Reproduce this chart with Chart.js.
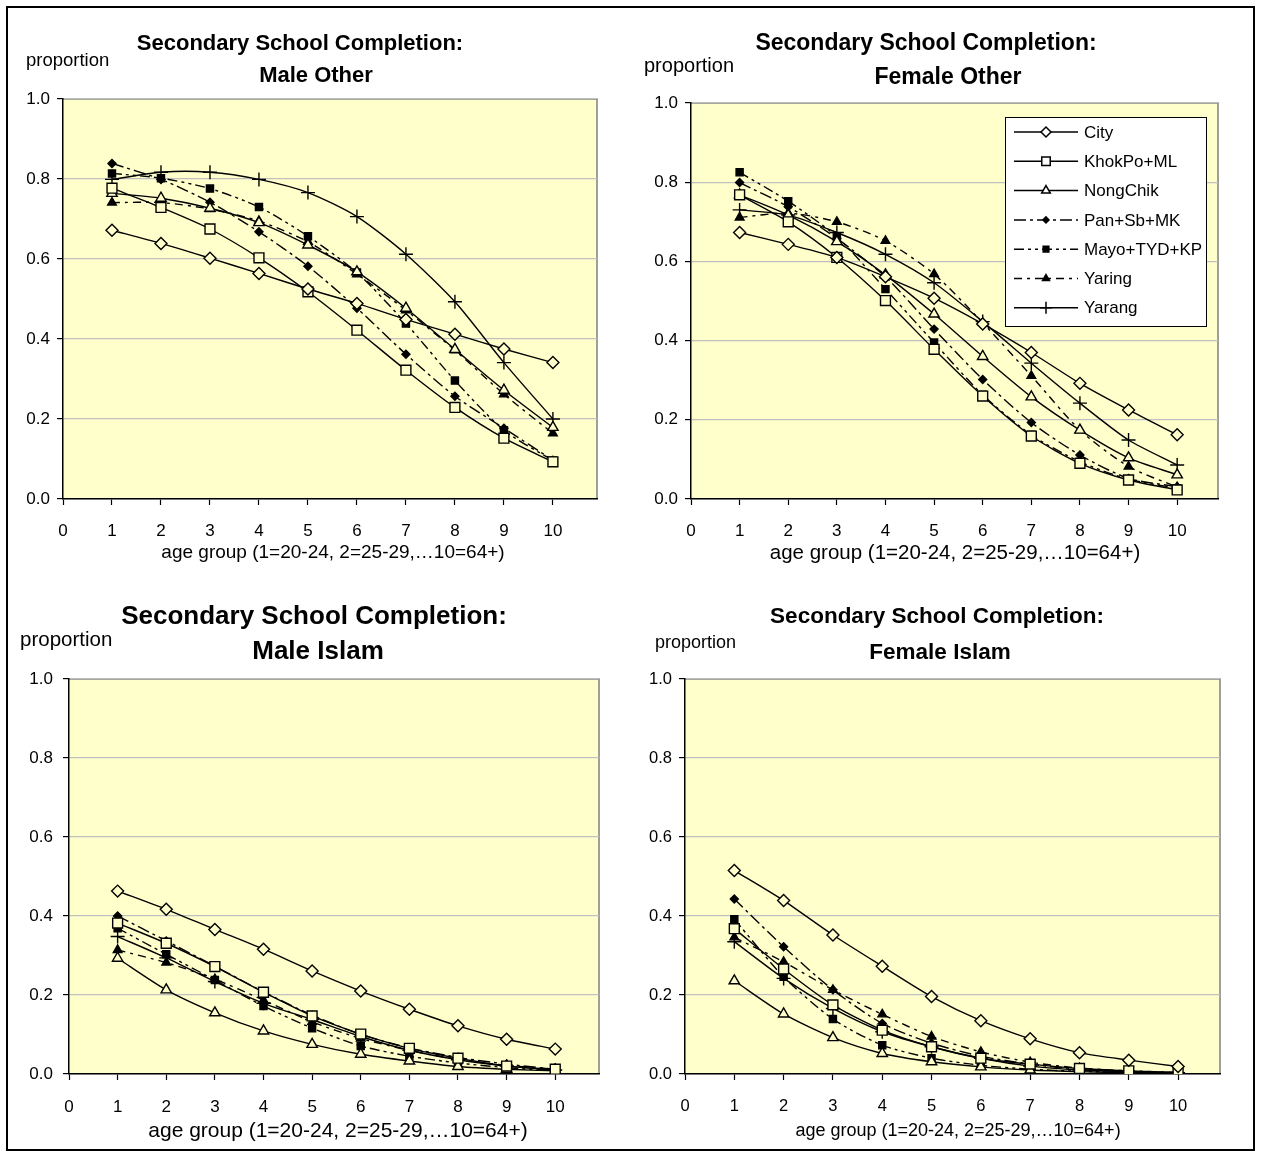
<!DOCTYPE html>
<html>
<head>
<meta charset="utf-8">
<script src="https://cdn.jsdelivr.net/npm/chart.js@4.4.1/dist/chart.umd.min.js"></script>
<style>
  html, body { margin: 0; padding: 0; background: #fff; }
  #page { position: relative; width: 1262px; height: 1157px; overflow: hidden; }
  #page canvas { position: absolute; left: 0; top: 0; }
  #frame { position: absolute; left: 6px; top: 6px; width: 1245px; height: 1141px; border: 2px solid #000; }
</style>
</head>
<body>
<div id="page">
  <div id="frame"></div>
  <canvas id="maleOther" width="1262" height="1157"></canvas>
  <canvas id="femaleOther" width="1262" height="1157"></canvas>
  <canvas id="maleIslam" width="1262" height="1157"></canvas>
  <canvas id="femaleIslam" width="1262" height="1157"></canvas>
</div>
<script>
const FONT = "'Liberation Sans', Arial, Helvetica, sans-serif";

// x values (age group 1=20-24 ... 10=64+)
const ageGroups = [1, 2, 3, 4, 5, 6, 7, 8, 9, 10];
const seriesNames = ['City', 'KhokPo+ML', 'NongChik', 'Pan+Sb+MK', 'Mayo+TYD+KP', 'Yaring', 'Yarang'];
const xTicks = [0, 1, 2, 3, 4, 5, 6, 7, 8, 9, 10];
const yTicks = [0, 0.2, 0.4, 0.6, 0.8, 1.0];

// values, one row per series (same order as seriesNames)
const maleOther = [
  [0.672, 0.639, 0.602, 0.564, 0.525, 0.489, 0.449, 0.412, 0.375, 0.341],
  [0.777, 0.729, 0.675, 0.603, 0.518, 0.422, 0.322, 0.229, 0.152, 0.093],
  [0.764, 0.752, 0.727, 0.691, 0.635, 0.568, 0.477, 0.374, 0.272, 0.179],
  [0.839, 0.799, 0.742, 0.668, 0.582, 0.477, 0.362, 0.257, 0.177, 0.097],
  [0.814, 0.802, 0.776, 0.730, 0.657, 0.566, 0.439, 0.296, 0.172, 0.096],
  [0.741, 0.741, 0.725, 0.695, 0.643, 0.562, 0.472, 0.372, 0.262, 0.164],
  [0.799, 0.817, 0.817, 0.799, 0.766, 0.706, 0.612, 0.493, 0.341, 0.200]
];
const femaleOther = [
  [0.673, 0.643, 0.610, 0.561, 0.507, 0.442, 0.370, 0.292, 0.225, 0.162],
  [0.768, 0.700, 0.610, 0.501, 0.378, 0.260, 0.159, 0.090, 0.048, 0.023],
  [0.768, 0.717, 0.650, 0.566, 0.467, 0.360, 0.258, 0.174, 0.104, 0.061],
  [0.799, 0.738, 0.658, 0.561, 0.429, 0.302, 0.193, 0.111, 0.052, 0.031],
  [0.825, 0.752, 0.662, 0.530, 0.395, 0.263, 0.162, 0.094, 0.050, 0.027],
  [0.711, 0.722, 0.700, 0.652, 0.568, 0.445, 0.311, 0.174, 0.082, 0.030],
  [0.730, 0.717, 0.673, 0.618, 0.546, 0.448, 0.343, 0.242, 0.149, 0.086]
];
const maleIslam = [
  [0.463, 0.417, 0.366, 0.316, 0.261, 0.210, 0.164, 0.122, 0.088, 0.063],
  [0.382, 0.331, 0.272, 0.207, 0.147, 0.101, 0.065, 0.040, 0.020, 0.012],
  [0.293, 0.213, 0.155, 0.109, 0.075, 0.050, 0.033, 0.019, 0.012, 0.008],
  [0.400, 0.337, 0.273, 0.208, 0.149, 0.100, 0.066, 0.042, 0.025, 0.012],
  [0.369, 0.303, 0.238, 0.172, 0.116, 0.071, 0.045, 0.028, 0.016, 0.008],
  [0.314, 0.282, 0.240, 0.187, 0.132, 0.090, 0.060, 0.037, 0.022, 0.012],
  [0.348, 0.294, 0.234, 0.179, 0.138, 0.095, 0.060, 0.036, 0.020, 0.010]
];
const femaleIslam = [
  [0.515, 0.439, 0.352, 0.273, 0.196, 0.135, 0.089, 0.054, 0.035, 0.019],
  [0.368, 0.266, 0.175, 0.111, 0.069, 0.040, 0.025, 0.014, 0.008, 0.004],
  [0.236, 0.152, 0.092, 0.052, 0.031, 0.018, 0.010, 0.006, 0.003, 0.002],
  [0.443, 0.322, 0.213, 0.128, 0.078, 0.045, 0.025, 0.012, 0.006, 0.003],
  [0.392, 0.246, 0.139, 0.073, 0.040, 0.022, 0.012, 0.007, 0.004, 0.002],
  [0.346, 0.284, 0.213, 0.151, 0.095, 0.056, 0.030, 0.015, 0.008, 0.004],
  [0.335, 0.242, 0.166, 0.107, 0.069, 0.040, 0.020, 0.010, 0.006, 0.003]
];

const PLOT_BG = '#FFFFCC';
// marker + line look for each series
const seriesStyle = [
  { pointStyle: 'rectRot', radius: 6, fill: PLOT_BG, dash: [] },
  { pointStyle: 'rect', radius: 7, fill: PLOT_BG, dash: [] },
  { pointStyle: 'triangle', radius: 6, fill: PLOT_BG, dash: [] },
  { pointStyle: 'rectRot', radius: 4, fill: '#000', dash: [12, 4, 3, 4] },
  { pointStyle: 'rect', radius: 5, fill: '#000', dash: [10, 4, 3, 4, 3, 4] },
  { pointStyle: 'triangle', radius: 5, fill: '#000', dash: [8, 5, 3, 5] },
  { pointStyle: 'cross', radius: 7, fill: '#000', dash: [] }
];

// background, titles and legend
const decor = {
  id: 'decor',
  beforeDraw(chart, args, o) {
    const { ctx, chartArea: a } = chart;
    ctx.save();
    ctx.fillStyle = PLOT_BG;
    ctx.fillRect(a.left, a.top, a.right - a.left, a.bottom - a.top);
    ctx.strokeStyle = '#808080';
    ctx.lineWidth = 1.5;
    ctx.beginPath();
    ctx.moveTo(a.left, a.top);
    ctx.lineTo(a.right, a.top);
    ctx.lineTo(a.right, a.bottom);
    ctx.stroke();
    ctx.restore();
  },
  afterDraw(chart, args, o) {
    const ctx = chart.ctx;
    ctx.save();
    ctx.fillStyle = '#000';
    ctx.textBaseline = 'middle';
    ctx.textAlign = 'center';
    o.titles.forEach(t => {
      ctx.font = `bold ${t.size}px ${FONT}`;
      ctx.fillText(t.text, t.x, t.y);
    });
    ctx.font = `${o.xTitle.size}px ${FONT}`;
    ctx.fillText('age group (1=20-24, 2=25-29,…10=64+)', o.xTitle.x, o.xTitle.y);
    ctx.textAlign = 'left';
    ctx.font = `${o.yTitle.size}px ${FONT}`;
    ctx.fillText('proportion', o.yTitle.x, o.yTitle.y);

    if (o.legend) {
      const L = o.legend;
      ctx.fillStyle = '#fff';
      ctx.fillRect(L.x, L.y, L.w, L.h);
      ctx.strokeStyle = '#000';
      ctx.lineWidth = 1;
      ctx.strokeRect(L.x + 0.5, L.y + 0.5, L.w, L.h);
      chart.data.datasets.forEach((ds, i) => {
        const y = L.y + 15 + i * L.row;
        const st = seriesStyle[i];
        ctx.strokeStyle = '#000';
        ctx.lineWidth = 1.5;
        ctx.setLineDash(st.dash);
        ctx.beginPath();
        ctx.moveTo(L.x + 9, y);
        ctx.lineTo(L.x + 73, y);
        ctx.stroke();
        ctx.setLineDash([]);
        ctx.fillStyle = st.fill === PLOT_BG ? '#fff' : '#000';
        Chart.helpers.drawPoint(ctx, {
          pointStyle: st.pointStyle, rotation: 0,
          radius: st.radius - 1, borderWidth: 1.2
        }, L.x + 41, y);
        ctx.fillStyle = '#000';
        ctx.font = `${L.size}px ${FONT}`;
        ctx.textAlign = 'left';
        ctx.fillText(ds.label, L.x + 79, y + 1);
      });
    }
    ctx.restore();
  }
};

function makeChart(id, values, cfg) {
  const yW = 55, xH = 45;
  const a = cfg.area;
  const datasets = values.map((row, i) => {
    const st = seriesStyle[i];
    return {
      label: seriesNames[i],
      data: row.map((v, j) => ({ x: ageGroups[j], y: v })),
      borderColor: '#000',
      borderWidth: 1.4,
      borderDash: st.dash,
      tension: 0.25,
      pointStyle: st.pointStyle,
      pointRadius: st.radius,
      pointBackgroundColor: st.fill,
      pointBorderColor: '#000',
      pointBorderWidth: 1.4
    };
  });
  return new Chart(document.getElementById(id), {
    type: 'line',
    data: { datasets },
    plugins: [decor],
    options: {
      responsive: false,
      animation: false,
      devicePixelRatio: 1,
      events: [],
      layout: {
        padding: { left: a.l - yW, top: a.t, right: 1262 - a.r, bottom: 1157 - a.b - xH }
      },
      plugins: {
        legend: { display: false },
        tooltip: { enabled: false },
        decor: cfg.decor
      },
      scales: {
        x: {
          type: 'linear', min: 0, max: cfg.xMax,
          afterFit: s => { s.height = xH; },
          afterBuildTicks: s => { s.ticks = xTicks.map(v => ({ value: v })); },
          ticks: { padding: cfg.xPad, color: '#000', maxRotation: 0, autoSkip: false,
                   font: { family: FONT, size: cfg.tickSize } },
          grid: { drawOnChartArea: false, tickColor: '#000', tickLength: 6, tickWidth: 1.2 },
          border: { color: '#000', width: 1.5 }
        },
        y: {
          min: 0, max: 1,
          afterFit: s => { s.width = yW; },
          afterBuildTicks: s => { s.ticks = yTicks.map(v => ({ value: v })); },
          ticks: { padding: cfg.yPad, color: '#000', callback: v => v.toFixed(1),
                   font: { family: FONT, size: cfg.tickSize } },
          grid: { color: '#c0c0c0', lineWidth: 1.2, tickColor: '#000', tickLength: 6, tickWidth: 1.2 },
          border: { color: '#000', width: 1.5 }
        }
      }
    }
  });
}

makeChart('maleOther', maleOther, {
  area: { l: 63, t: 99, r: 597, b: 499 }, xMax: 10.9, tickSize: 17, yPad: 7, xPad: 16,
  decor: {
    titles: [
      { text: 'Secondary School Completion:', x: 300, y: 44, size: 22 },
      { text: 'Male Other', x: 316, y: 76, size: 22 }
    ],
    yTitle: { x: 26, y: 61, size: 18.5 },
    xTitle: { x: 333, y: 553, size: 19 }
  }
});

makeChart('femaleOther', femaleOther, {
  area: { l: 691, t: 103, r: 1218, b: 499 }, xMax: 10.84, tickSize: 17, yPad: 7, xPad: 16,
  decor: {
    titles: [
      { text: 'Secondary School Completion:', x: 926, y: 44, size: 23 },
      { text: 'Female Other', x: 948, y: 78, size: 23 }
    ],
    yTitle: { x: 644, y: 66, size: 20 },
    xTitle: { x: 955, y: 553, size: 20.5 },
    legend: { x: 1005, y: 117, w: 201, h: 209, row: 29.3, size: 17 }
  }
});

makeChart('maleIslam', maleIslam, {
  area: { l: 69, t: 679, r: 599, b: 1074 }, xMax: 10.9, tickSize: 17, yPad: 10, xPad: 17,
  decor: {
    titles: [
      { text: 'Secondary School Completion:', x: 314, y: 617, size: 26 },
      { text: 'Male Islam', x: 318, y: 652, size: 26 }
    ],
    yTitle: { x: 20, y: 640, size: 20.5 },
    xTitle: { x: 338, y: 1131, size: 21 }
  }
});

makeChart('femaleIslam', femaleIslam, {
  area: { l: 685, t: 679, r: 1220, b: 1074 }, xMax: 10.85, tickSize: 16.5, yPad: 7, xPad: 17,
  decor: {
    titles: [
      { text: 'Secondary School Completion:', x: 937, y: 617, size: 22.5 },
      { text: 'Female Islam', x: 940, y: 653, size: 22.5 }
    ],
    yTitle: { x: 655, y: 643, size: 18 },
    xTitle: { x: 958, y: 1131, size: 18 }
  }
});
</script>
</body>
</html>
